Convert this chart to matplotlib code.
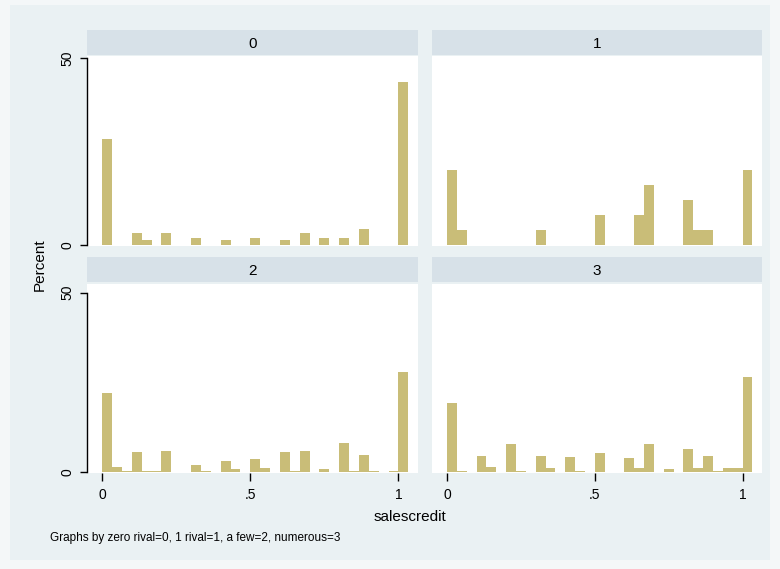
import numpy as np
import matplotlib
matplotlib.use("Agg")
import matplotlib.pyplot as plt

plt.rcParams['font.family'] = ['Liberation Sans', 'DejaVu Sans']

######################################################
# data : percent of obs per bin (bin width 1/30, left edges 0 .. 1)
######################################################
bin_width = 1 / 30
bin_left = np.arange(31) * bin_width

groups = ['0', '1', '2', '3']

# group 0 : zero rival
pct_0 = [28.4, 0, 0, 3.1, 1.3, 0, 3.1, 0, 0, 2.0, 0, 0, 1.3, 0, 0, 2.0,
         0, 0, 1.3, 0, 3.3, 0, 2.0, 0, 2.0, 0, 4.3, 0, 0, 0, 43.6]
# group 1 : 1 rival
pct_1 = [20, 4, 0, 0, 0, 0, 0, 0, 0, 4, 0, 0, 0, 0, 0, 8,
         0, 0, 0, 8, 16, 0, 0, 0, 12, 4, 4, 0, 0, 0, 20]
# group 2 : a few
pct_2 = [21.9, 1.2, 0.3, 5.6, 0.3, 0.3, 5.9, 0, 0, 2.0, 0.3, 0, 3.1, 0.7, 0, 3.5,
         0.9, 0, 5.4, 0.3, 5.9, 0, 0.7, 0, 7.9, 0.3, 4.7, 0.3, 0, 0.3, 27.9]
# group 3 : numerous
pct_3 = [19.3, 0.3, 0, 4.5, 1.2, 0, 7.7, 0.3, 0, 4.5, 0.9, 0, 4.0, 0.3, 0, 5.3,
         0, 0, 3.7, 0.9, 7.7, 0, 0.7, 0, 6.3, 0.9, 4.5, 0.3, 0.9, 0.9, 26.5]

all_pct = [pct_0, pct_1, pct_2, pct_3]

xticks = [0, 0.5, 1]
xticklabels = ['0', '.5', '1']
yticks = [0, 50]
yticklabels = ['0', '50']

caption = 'Graphs by zero rival=0, 1 rival=1, a few=2, numerous=3'

######################################################
# layout (pixels of a 780x569 figure)
######################################################
W, H = 780, 569
bg = '#EAF1F3'
strip_col = '#D7E1E8'
bar_col = '#C9BD78'

fig = plt.figure(figsize=(7.8, 5.69), dpi=100)
fig.patch.set_facecolor('#F4F7F8')

def fbox(x0, y0, x1, y1):
    # pixel box (top-left origin) -> figure fraction [l, b, w, h]
    return [x0 / W, 1 - y1 / H, (x1 - x0) / W, (y1 - y0) / H]

# graph region background
bax = fig.add_axes(fbox(10, 5, 770, 560), zorder=-10)
bax.set_facecolor(bg)
bax.set_xticks([])
bax.set_yticks([])
for s in bax.spines.values():
    s.set_visible(False)

cols = [(87, 418), (432, 762)]
rows = [dict(strip=(30, 55), plot=(56, 246), ylim=(-0.27, 50.5)),
        dict(strip=(257, 282), plot=(284, 473), ylim=(-0.36, 52.4))]
xlim = (-0.051, 1.066)

for i, pct in enumerate(all_pct):
    r, c = divmod(i, 2)
    x0, x1 = cols[c]
    row = rows[r]

    # strip with the group label
    sax = fig.add_axes(fbox(x0, row['strip'][0], x1, row['strip'][1]))
    sax.set_facecolor(strip_col)
    sax.set_xticks([])
    sax.set_yticks([])
    for s in sax.spines.values():
        s.set_visible(False)
    sax.text(0.5, 0.45, groups[i], ha='center', va='center', fontsize=11,
             transform=sax.transAxes)

    ax = fig.add_axes(fbox(x0, row['plot'][0], x1, row['plot'][1]))
    ax.set_facecolor('white')
    ax.bar(bin_left, pct, width=bin_width, align='edge', color=bar_col,
           linewidth=0)
    ax.set_xlim(xlim)
    ax.set_ylim(row['ylim'])
    for s in ['top', 'right', 'bottom', 'left']:
        ax.spines[s].set_visible(False)

    if c == 0:
        ax.spines['left'].set_visible(True)
        ax.spines['left'].set_color('black')
        ax.spines['left'].set_linewidth(1.0)
        ax.spines['left'].set_bounds(0, 50)
        ax.set_yticks(yticks)
        ax.set_yticklabels(yticklabels, rotation=90, va='center', fontsize=10)
        ax.tick_params(axis='y', length=5, width=1, pad=4)
    else:
        ax.set_yticks([])

    if r == 1:
        ax.set_xticks(xticks)
        ax.set_xticklabels(xticklabels, fontsize=10)
        ax.tick_params(axis='x', length=6, width=1, pad=5)
    else:
        ax.set_xticks([])

fig.text(40 / W, 1 - 265 / H, 'Percent', rotation=90, ha='center', va='center',
         fontsize=11)
fig.text(410 / W, 1 - 517 / H, 'salescredit', ha='center', va='center',
         fontsize=11)
fig.text(50 / W, 1 - 538 / H, caption, ha='left', va='center', fontsize=8.5)

plt.savefig('out.png', dpi=100, facecolor=fig.get_facecolor())
